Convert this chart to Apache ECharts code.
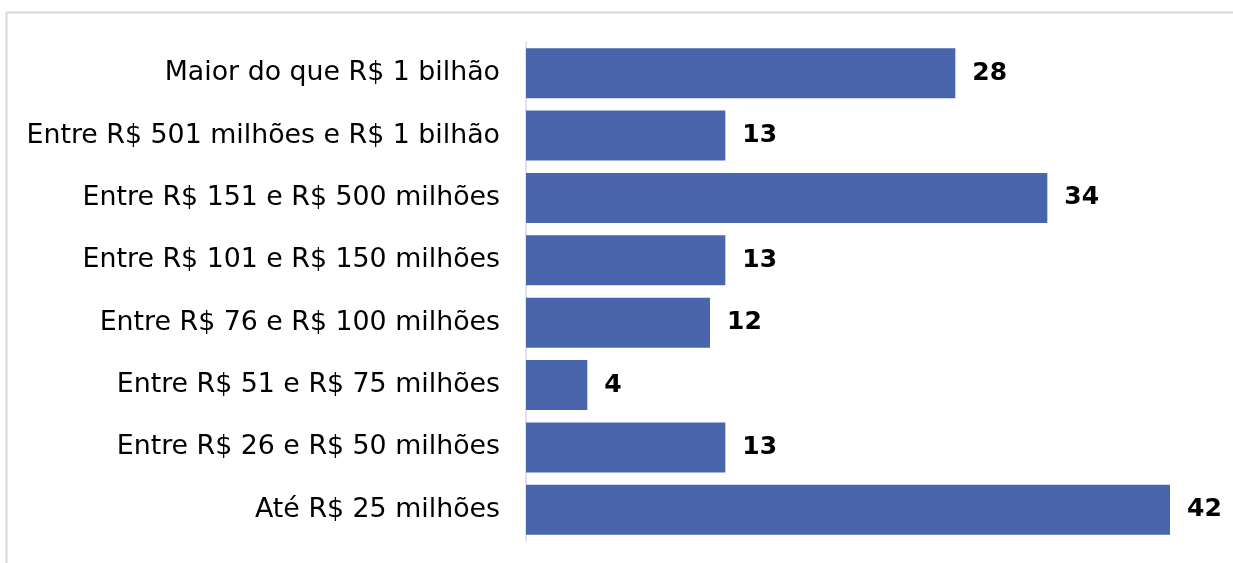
<!DOCTYPE html>
<html>
<head>
<meta charset="utf-8">
<script src="https://cdn.jsdelivr.net/npm/echarts@6/dist/echarts.min.js"></script>
<style>
html,body{margin:0;padding:0;background:#fff;}
#chart{width:1233px;height:563px;}
</style>
</head>
<body>
<div id="chart"></div>
<script>
const categories = [
  "Maior do que R$ 1 bilhão",
  "Entre R$ 501 milhões e R$ 1 bilhão",
  "Entre R$ 151 e R$ 500 milhões",
  "Entre R$ 101 e R$ 150 milhões",
  "Entre R$ 76 e R$ 100 milhões",
  "Entre R$ 51 e R$ 75 milhões",
  "Entre R$ 26 e R$ 50 milhões",
  "Até R$ 25 milhões"
];
const values = [28, 13, 34, 13, 12, 4, 13, 42];

const chart = echarts.init(document.getElementById('chart'), null, {renderer: 'canvas'});
const font = '"DejaVu Sans", Verdana, sans-serif';
chart.setOption({
  animation: false,
  backgroundColor: '#ffffff',
  graphic: [{
    type: 'rect',
    silent: true,
    shape: {x: 6.5, y: 12.5, width: 1240, height: 600},
    style: {fill: 'none', stroke: '#d9d9d9', lineWidth: 2}
  }],
  grid: {left: 526, right: 63, top: 42, bottom: 22},
  xAxis: {
    type: 'value', min: 0, max: 42,
    show: false
  },
  yAxis: {
    type: 'category',
    inverse: true,
    data: categories,
    axisLine: {show: true, lineStyle: {color: '#d9d9d9', width: 1.5}},
    axisTick: {show: false},
    axisLabel: {color: '#000', fontSize: 26.8, fontFamily: font, margin: 26, padding: [8, 0, 0, 0]}
  },
  series: [{
    type: 'bar',
    data: values,
    barWidth: '80%',
    itemStyle: {color: '#4966ad'},
    label: {
      show: true, position: 'right', distance: 17,
      color: '#000', fontSize: 25, fontWeight: 'bold', fontFamily: font,
      padding: [8, 0, 0, 0]
    }
  }]
});
</script>
</body>
</html>
